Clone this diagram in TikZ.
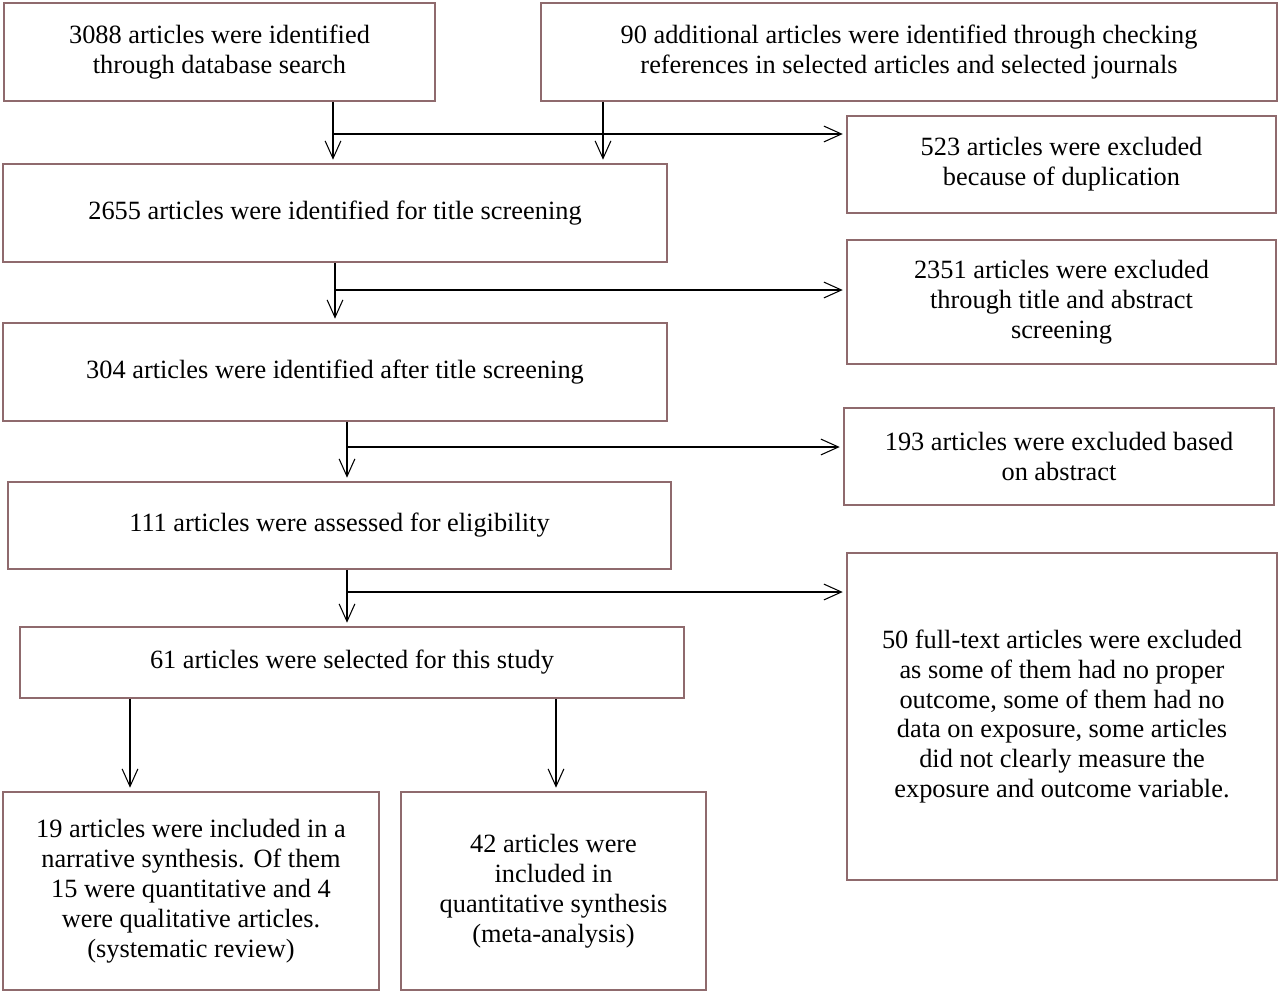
\documentclass[tikz,border=0pt]{standalone}
\usepackage{fontspec}
\setmainfont{Liberation Serif}
\usepackage[HTML]{xcolor}
\usetikzlibrary{positioning, arrows.meta}

\definecolor{boxline}{HTML}{8F6A6D}

\begin{document}
\begin{tikzpicture}[x=0.02cm, y=-0.02cm,
  box/.style={draw=boxline, line width=0.9pt, fill=white, align=center,
    inner sep=0pt, font=\fontsize{15}{17}\selectfont},
  arr/.style={-{Straight Barb[length=10pt, width=9pt]}, line width=0.6pt, shorten >=2pt}]

\useasboundingbox (0,0) rectangle (1280,993);

% --- Identification ---
\node[box, minimum width=8.62cm, minimum height=1.96cm] (src) at (219.5,52)
  {3088 articles were identified\\through database search};
\node[box, minimum width=14.72cm, minimum height=1.96cm] (extra) at (909,52)
  {90 additional articles were identified through checking\\references in selected articles and selected journals};
\node[box, minimum width=8.58cm, minimum height=1.94cm] (dup) at (1061.5,164.5)
  {523 articles were excluded\\because of duplication};

% --- Screening ---
\node[box, minimum width=13.28cm, minimum height=1.96cm] (title) at (335,213)
  {2655 articles were identified for title screening};
\node[box, minimum width=8.58cm, minimum height=2.48cm] (excl2) at (1061.5,302)
  {2351 articles were excluded\\through title and abstract\\screening};
\node[box, minimum width=13.28cm, minimum height=1.96cm] (after) at (335,372)
  {304 articles were identified after title screening};
\node[box, minimum width=8.6cm, minimum height=1.94cm] (excl3) at (1059,456.5)
  {193 articles were excluded based\\on abstract};

% --- Eligibility ---
\node[box, minimum width=13.26cm, minimum height=1.74cm] (elig) at (339.5,525.5)
  {111 articles were assessed for eligibility};
\node[box, minimum width=8.6cm, minimum height=6.54cm] (excl4) at (1062,716.5)
  {50 full-text articles were excluded\\as some of them had no proper\\outcome, some of them had no\\data on exposure, some articles\\did not clearly measure the\\exposure and outcome variable.};

% --- Included ---
\node[box, minimum width=13.28cm, minimum height=1.42cm] (sel) at (352,662.5)
  {61 articles were selected for this study};
\node[box, minimum width=7.52cm, minimum height=3.96cm] (narr) at (191,891)
  {19 articles were included in a\\narrative synthesis. Of them\\15 were quantitative and 4\\were qualitative articles.\\(systematic review)};
\node[box, minimum width=6.1cm, minimum height=3.96cm] (meta) at (553.5,891)
  {42 articles were\\included in\\quantitative synthesis\\(meta-analysis)};

% branch points
\coordinate (m1) at (333,134);
\coordinate (j2) at (603,134);
\coordinate (m2) at (336,290);
\coordinate (m3) at (347,447);
\coordinate (m4) at (347,592);
\coordinate (k1) at (130,0);
\coordinate (k2) at (556,0);

% --- connectors ---
\draw[arr] (src.south -| m1) -- (title.north -| m1);
\draw[arr] (extra.south -| j2) -- (title.north -| j2);
\draw[arr] (m1) -- (m1 -| dup.west);
\draw[arr] (title) -- (after);
\draw[arr] (m2) -- (m2 -| excl2.west);
\draw[arr] (after.south -| m3) -- (elig.north -| m3);
\draw[arr] (m3) -- (m3 -| excl3.west);
\draw[arr] (elig.south -| m4) -- (sel.north -| m4);
\draw[arr] (m4) -- (m4 -| excl4.west);
\draw[arr] (sel.south -| k1) -- (narr.north -| k1);
\draw[arr] (sel.south -| k2) -- (meta.north -| k2);

\end{tikzpicture}
\end{document}
